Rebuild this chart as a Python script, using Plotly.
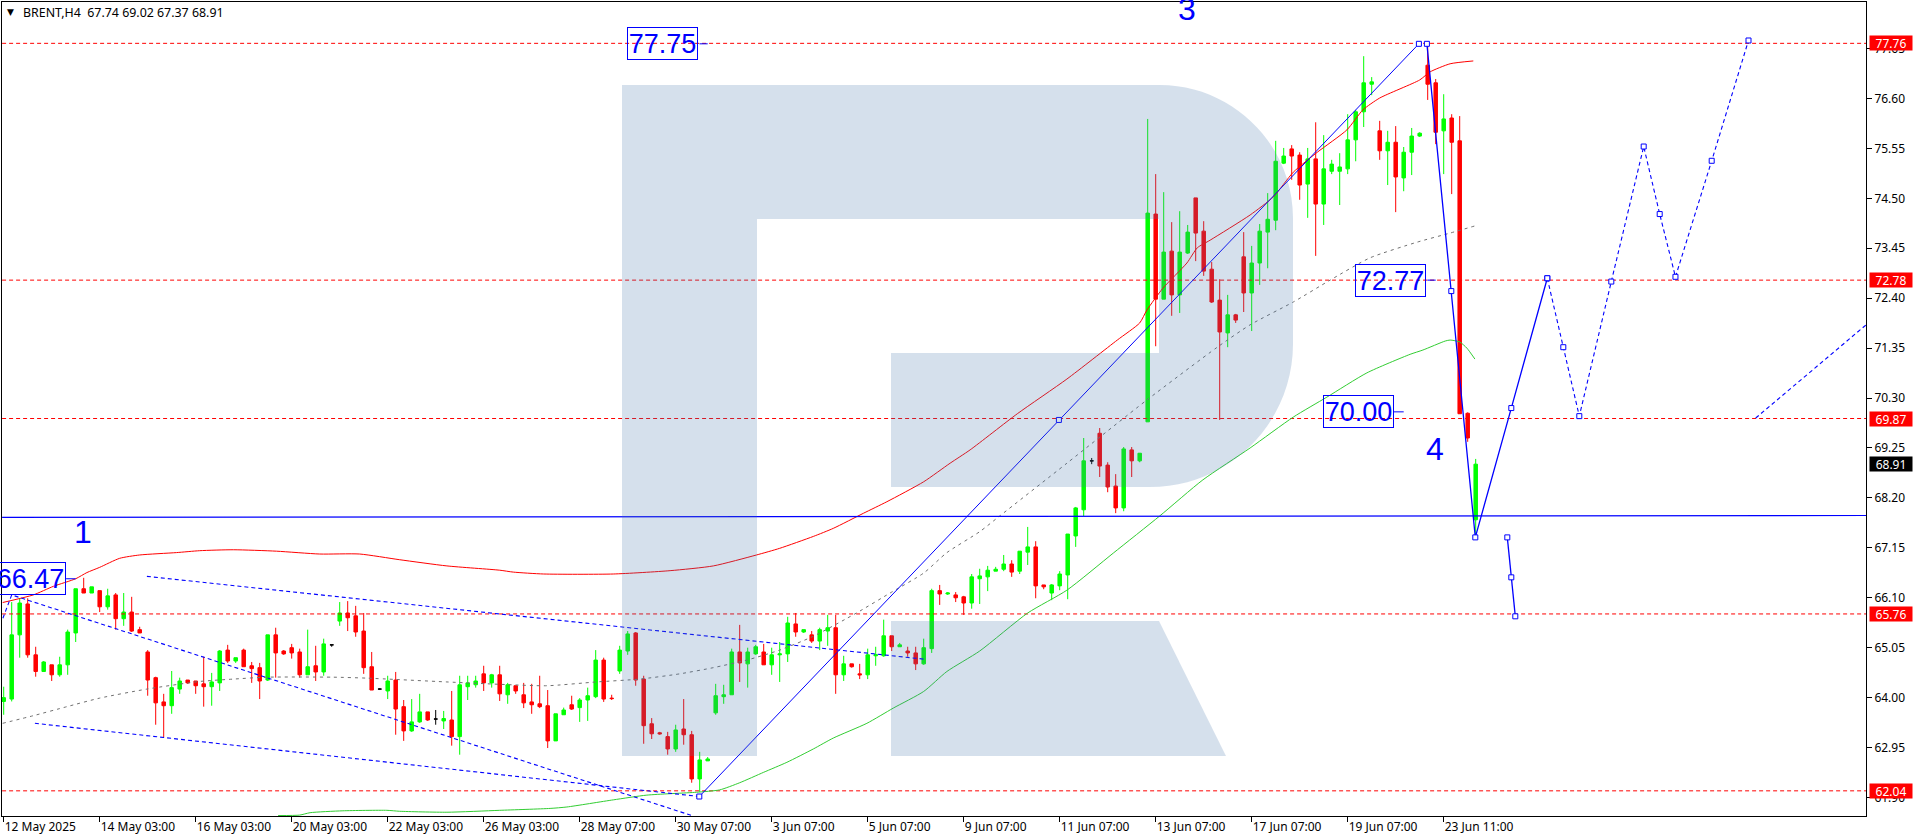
import plotly.graph_objects as go

# ---------- candles (BRENT H4) ----------
opens = [63.92,63.97,65.32,65.97,64.90,64.55,64.69,64.48,64.69,65.36,
66.29,66.20,66.25,65.91,66.16,65.66,65.80,65.43,64.96,64.42,
63.91,63.83,64.18,64.37,64.35,64.29,64.23,64.31,65.00,64.77,
65.00,64.67,64.63,64.37,65.32,64.98,65.05,64.96,64.48,64.67,
64.54,65.11,65.61,65.78,65.72,65.40,64.65,64.18,64.14,64.37,
63.81,63.30,63.49,63.70,63.55,63.51,63.53,63.18,64.23,64.27,
64.50,64.31,64.48,64.06,64.25,64.06,63.91,63.87,63.83,63.09,
63.64,63.85,63.79,63.95,64.02,64.79,63.99,64.56,64.98,65.36,
64.39,63.45,63.26,63.18,62.92,63.34,63.22,62.29,62.67,63.68,
64.02,64.06,64.96,64.71,64.92,64.96,64.69,64.90,64.92,65.55,
65.38,65.32,65.19,65.40,65.47,64.48,64.71,64.50,64.48,64.88,
64.88,65.30,65.07,64.98,64.94,64.71,65.03,66.25,66.18,66.16,
66.12,65.99,66.50,66.54,66.66,66.70,66.81,66.66,67.06,67.17,
66.37,66.20,66.35,66.58,67.40,67.95,68.98,69.56,68.89,68.45,
67.99,69.21,68.98,69.80,74.17,72.38,73.39,72.47,73.35,74.51,
73.81,73.01,72.36,71.67,72.05,73.27,72.51,73.14,73.79,74.04,
75.24,75.54,75.41,74.80,75.33,74.38,75.07,75.07,75.12,75.73,
76.32,76.90,75.92,75.50,75.68,74.93,75.47,75.81,77.30,76.93,
75.92,76.19,75.71,69.98,67.74]
highs = [64.23,66.01,66.09,66.09,65.07,64.77,64.69,64.86,65.43,66.29,
66.52,66.33,66.25,66.29,66.20,66.20,66.12,65.49,65.00,64.44,
64.08,64.56,64.42,64.37,64.35,64.86,64.52,65.00,65.11,64.84,
65.03,64.75,64.73,65.32,65.47,65.00,65.13,65.03,65.43,65.09,
65.24,65.11,66.01,66.03,65.93,65.78,64.96,64.20,64.46,64.54,
63.95,63.97,64.08,63.70,63.74,63.72,64.14,64.46,64.46,64.46,
64.67,64.50,64.67,64.31,64.25,64.31,64.29,64.46,64.16,63.66,
63.79,64.04,63.99,64.21,65.00,64.84,64.06,65.09,65.40,65.38,
64.46,63.57,63.28,63.28,63.43,63.97,63.30,62.86,62.75,64.29,
64.27,65.03,65.53,65.05,65.11,65.13,65.05,65.17,65.70,65.78,
65.43,65.40,65.47,65.74,65.74,64.88,64.71,64.71,65.03,65.07,
65.64,65.30,65.15,65.07,65.07,65.24,66.29,66.37,66.22,66.22,
66.14,66.60,66.71,66.77,66.75,67.00,66.89,67.08,67.59,67.29,
66.37,66.39,66.66,67.44,68.01,69.46,69.04,69.67,68.95,68.70,
69.27,69.27,69.14,76.17,75.01,74.63,74.00,74.23,73.94,74.51,
74.02,73.16,72.80,72.47,72.07,73.79,73.50,73.96,74.61,75.71,
75.56,75.62,75.47,75.56,76.10,75.83,75.31,75.45,76.27,76.36,
77.49,77.05,76.13,75.92,76.02,75.58,75.98,75.89,77.70,77.01,
76.69,76.27,76.23,70.00,69.02]
lows = [63.64,63.92,64.84,64.84,64.44,64.55,64.35,64.44,64.48,65.17,
66.20,66.20,65.80,65.85,65.43,65.51,65.38,65.36,64.04,63.43,
63.17,63.66,64.08,64.29,64.08,63.81,63.83,64.14,64.73,64.73,
64.65,64.31,63.97,64.35,64.42,64.90,64.82,64.42,64.48,64.35,
64.46,65.07,65.51,65.40,65.28,64.50,64.16,64.16,63.97,63.22,
63.09,63.28,63.47,63.51,63.43,63.34,62.99,62.80,63.95,64.21,
64.14,64.21,63.93,63.87,64.08,63.78,63.66,63.78,62.94,63.09,
63.64,63.74,63.49,63.51,63.99,63.91,63.95,64.50,64.90,64.25,
63.03,63.13,63.22,62.80,62.86,63.01,62.21,62.02,62.67,63.64,
63.87,64.06,64.33,64.21,64.90,64.69,64.48,64.33,64.75,65.28,
65.36,65.15,65.00,65.09,64.08,64.35,64.63,64.39,64.39,64.67,
64.86,64.98,65.07,64.86,64.58,64.69,64.94,65.95,66.16,66.01,
65.74,65.87,65.97,66.24,66.66,66.66,66.54,66.60,66.79,66.09,
66.28,66.05,66.26,66.07,67.17,67.82,68.91,68.64,68.32,67.88,
67.92,68.64,68.95,69.80,71.39,72.38,72.03,72.09,73.33,73.18,
72.87,72.30,69.84,71.37,71.88,72.11,71.71,72.68,73.03,73.83,
75.22,74.89,74.47,74.09,73.29,73.94,75.01,74.36,75.01,75.28,
76.00,76.67,75.31,74.78,74.21,74.65,74.99,75.79,76.57,75.64,
75.01,74.59,69.97,69.38,67.37]
closes = [64.00,65.32,65.99,64.90,64.55,64.75,64.48,64.69,65.38,66.29,
66.20,66.33,65.91,66.14,65.66,65.80,65.40,65.36,64.37,63.89,
63.83,64.21,64.35,64.31,64.25,64.23,64.33,64.98,64.77,64.84,
64.65,64.61,64.35,65.32,64.94,64.92,64.94,64.48,64.65,64.54,
65.13,65.11,65.78,65.68,65.38,64.63,64.16,64.18,64.35,63.76,
63.30,63.49,63.70,63.53,63.55,63.56,63.18,64.27,64.31,64.35,
64.31,64.48,64.08,64.27,64.14,63.89,63.85,63.81,63.09,63.66,
63.74,63.76,63.95,64.04,64.79,63.97,63.98,65.00,65.34,64.37,
63.41,63.24,63.24,62.92,63.32,63.22,62.29,62.69,62.71,64.04,
64.06,64.96,64.73,64.96,65.07,64.69,64.90,64.92,65.57,65.38,
65.43,65.19,65.43,65.47,64.48,64.71,64.65,64.48,64.90,64.90,
65.30,65.07,65.11,64.94,64.71,65.05,66.25,66.18,66.20,66.10,
65.99,66.54,66.56,66.68,66.70,66.81,66.64,67.08,67.17,66.35,
66.33,66.37,66.60,67.44,67.99,68.98,68.98,68.87,68.43,67.99,
69.23,68.98,69.14,74.19,72.38,73.37,72.47,73.37,73.79,73.77,
72.97,72.32,71.69,72.05,71.94,72.51,73.14,73.81,74.06,75.28,
75.39,75.39,74.78,75.33,74.38,75.12,75.22,75.16,75.73,76.32,
76.93,76.95,75.50,75.68,74.95,75.47,75.81,75.87,76.90,75.89,
76.17,75.68,69.97,69.46,68.91]
bars = list(range(len(opens)))

# ---------- moving averages (bar index, price) ----------
red_ma_x = [-0.13,3.7,6.2,9.0,10.4,12.0,14.5,17.0,21.6,24.5,28.7,34.1,39.5,44.5,49.5,55.4,62.0,63.7,67.5,76.2,83.3,88.7,94.1,97.0,101.2,103.7,107.5,110.4,115.0,118.3,120.8,126.7,132.9,139.2,142.0,142.9,144.9,147.9,149.2,150.8,155.8,158.7,161.2,164.2,167.9,169.9,172.0,177.0,178.3,180.8,183.7]
red_ma_y = [66.00,66.16,66.34,66.50,66.63,66.74,66.93,67.00,67.05,67.09,67.11,67.08,67.02,67.02,66.90,66.77,66.68,66.64,66.60,66.60,66.67,66.77,67.00,67.14,67.39,67.56,67.88,68.12,68.54,68.93,69.21,69.97,70.70,71.52,71.88,72.15,72.61,73.14,73.46,73.62,74.15,74.53,75.05,75.47,75.94,76.36,76.61,76.99,77.16,77.33,77.39]
green_ma_x = [34.3,37.0,38.3,42.4,47.9,49.5,55.4,62.0,68.3,70.4,76.2,80.4,86.6,89.5,92.0,95.0,97.9,101.2,103.7,107.9,111.2,115.0,117.9,122.0,128.0,132.9,138.7,144.5,149.9,155.8,161.2,165.4,170.4,175.8,177.4,180.2,180.8,182.0,182.9,183.9]
green_ma_y = [61.52,61.53,61.58,61.62,61.63,61.61,61.59,61.63,61.67,61.70,61.85,61.95,62.01,62.06,62.21,62.43,62.64,62.92,63.15,63.46,63.78,64.13,64.55,64.98,65.78,66.26,67.04,67.82,68.58,69.25,69.90,70.32,70.83,71.22,71.31,71.50,71.52,71.48,71.35,71.12]
gray_ma_x = [-0.13,3.7,7.9,12.0,17.9,24.5,28.7,32.9,41.2,45.4,55.4,62.0,67.9,74.1,79.5,84.5,88.7,92.9,97.0,101.2,106.6,110.8,115.0,117.9,122.0,124.5,132.9,142.9,151.7,155.8,161.2,165.8,170.8,176.7,180.8,183.9]
gray_ma_y = [63.46,63.62,63.81,63.99,64.18,64.34,64.39,64.43,64.43,64.41,64.33,64.28,64.25,64.33,64.39,64.50,64.63,64.79,65.00,65.29,65.78,66.20,66.62,67.05,67.49,67.82,68.93,70.26,71.37,71.84,72.32,72.78,73.25,73.58,73.77,73.92]

# ---------- drawn objects (bar index, price) ----------
level_prices = [77.76, 72.78, 69.87, 65.76, 62.04]
axis_span = [-0.2, 232.8]
trend_y = [67.79, 67.83]
chan_upper_x, chan_upper_y = [17.9, 115.0], [66.55, 64.81]
chan_mid_x, chan_mid_y = [-0.1, 1.0, 86.2], [65.67, 66.16, 61.51]
chan_low_x, chan_low_y = [3.9, 86.95], [63.46, 61.92]
wave_up_x, wave_up_y = [86.95, 131.9, 176.9], [61.92, 69.84, 77.75]
wave_down_x = [177.9, 180.95, 183.95, 188.45, 192.95]
wave_down_y = [77.75, 72.55, 67.37, 70.09, 72.82]
alt_x, alt_y = [187.95, 188.45, 188.95], [67.37, 66.53, 65.71]
fc_x = [192.95, 194.95, 196.95, 200.95, 205.0, 207.0, 208.97, 213.5, 218.1]
fc_y = [72.82, 71.37, 69.92, 72.75, 75.59, 74.17, 72.85, 75.29, 77.82]
fc2_x, fc2_y = [219.0, 232.8], [69.88, 71.84]
leader_x = [[86.97, 88.0], [177.95, 179.0], [173.7, 175.0], [7.8, 9.0]]
leader_y = [77.75, 72.78, 70.01, 66.50]
box_labels = ["77.75", "72.77", "70.00", "66.47"]
box_x = [82.4, 173.3, 169.3, 3.3]
wave_labels = ["1", "3", "4"]
wave_x = [9.9, 147.9, 178.9]
wave_y = [67.48, 78.48, 69.23]

# ---------- axes ----------
x_tick_bars = [0,12,24,36,48,60,72,84,96,108,120,132,144,156,168,180]
x_tick_text = ["12 May 2025","14 May 03:00","16 May 03:00","20 May 03:00","22 May 03:00","26 May 03:00",
               "28 May 07:00","30 May 07:00","3 Jun 07:00","5 Jun 07:00","9 Jun 07:00","11 Jun 07:00",
               "13 Jun 07:00","17 Jun 07:00","19 Jun 07:00","23 Jun 11:00"]
y_ticks = [77.65,76.60,75.55,74.50,73.45,72.40,71.35,70.30,69.25,68.20,67.15,66.10,65.05,64.00,62.95,61.90]
red_tags = [77.76, 72.78, 69.87, 65.76, 62.04]
last_price = 68.91
title_text = "BRENT,H4\u00a0\u00a067.74 69.02 67.37 68.91"

# ---------- layout geometry (page pixels) ----------
W, H = 1916, 840
L, R, T, B = 2, 1866, 2, 816
FONT = "Noto Sans, Liberation Sans, sans-serif"
BLUE, RED, LIME = "#0000FF", "#FF0000", "#00FF00"
px = lambda v: (v - L) / (R - L)
py = lambda v: (B - v) / (B - T)
P = lambda a, b: f"{px(a):.5f},{py(b):.5f}"

fig = go.Figure()

def line(x, y, color, width=1, dash="solid", mode="lines", msize=5, shape="linear"):
    fig.add_trace(go.Scatter(x=x, y=y, mode=mode, hoverinfo="skip", showlegend=False,
                             line=dict(color=color, width=width, dash=dash, shape=shape,
                                       **({"smoothing": 0.6} if shape == "spline" else {})),
                             marker=dict(symbol="square", size=msize, color="white",
                                         line=dict(color=BLUE, width=1))))

for lv in level_prices:
    line(axis_span, [lv, lv], RED, 1, "4px,3px")
line(gray_ma_x, gray_ma_y, "#707070", 1, "3px,4px", shape="spline")
line(red_ma_x, red_ma_y, RED, 1, shape="spline")
line(green_ma_x, green_ma_y, "#32CD32", 1, shape="spline")

is_doji = [o == c for o, c in zip(opens, closes)]
sel = lambda arr, flag: [v for v, d in zip(arr, is_doji) if d == flag]
fig.add_trace(go.Candlestick(
    x=sel(bars, False), open=sel(opens, False), high=sel(highs, False),
    low=sel(lows, False), close=sel(closes, False), hoverinfo="skip", showlegend=False,
    whiskerwidth=0,
    increasing=dict(line=dict(color=LIME, width=1), fillcolor=LIME),
    decreasing=dict(line=dict(color=RED, width=1), fillcolor=RED)))
fig.add_trace(go.Candlestick(
    x=sel(bars, True), open=sel(opens, True), high=sel(highs, True),
    low=sel(lows, True), close=sel(closes, True), hoverinfo="skip", showlegend=False,
    whiskerwidth=0,
    increasing=dict(line=dict(color="black", width=1), fillcolor="black"),
    decreasing=dict(line=dict(color="black", width=1), fillcolor="black")))

line(axis_span, trend_y, BLUE, 1.2)
line(chan_upper_x, chan_upper_y, BLUE, 1.1, "4px,3px")
line(chan_mid_x, chan_mid_y, BLUE, 1.1, "4px,3px")
line(chan_low_x, chan_low_y, BLUE, 1.1, "4px,3px")
line(wave_up_x, wave_up_y, BLUE, 1, mode="lines+markers")
line(wave_down_x, wave_down_y, BLUE, 1.3, mode="lines+markers")
line(alt_x, alt_y, BLUE, 1.3, mode="lines+markers")
line(fc_x, fc_y, BLUE, 1.1, "4px,3px", mode="lines+markers")
line(fc2_x, fc2_y, BLUE, 1.1, "4px,3px")
for lx, ly in zip(leader_x, leader_y):
    fig.add_trace(go.Scatter(x=lx, y=[ly, ly], mode="lines", hoverinfo="skip", showlegend=False,
                             line=dict(color=BLUE, width=1)))

ann = []
for txt, bx, ly in zip(box_labels, box_x, leader_y):
    ann.append(dict(x=bx, y=ly, xref="x", yref="y", text=txt, showarrow=False,
                    font=dict(family="Liberation Sans", size=27, color=BLUE),
                    bordercolor=BLUE, borderwidth=1, borderpad=0, width=69, height=31,
                    xanchor="center", yanchor="middle", align="center", valign="middle"))
for txt, wx, wy in zip(wave_labels, wave_x, wave_y):
    ann.append(dict(x=wx, y=wy, xref="x", yref="y", text=txt, showarrow=False,
                    font=dict(family="Liberation Sans", size=32, color=BLUE),
                    xanchor="center", yanchor="middle"))
for v in red_tags:
    ann.append(dict(x=1 + 2.5 / (R - L), y=v, xref="paper", yref="y", text=f"{v:.2f}", showarrow=False,
                    font=dict(family=FONT, size=12, color="white"), bgcolor=RED, borderpad=0,
                    width=42, height=14, xanchor="left", yanchor="middle", align="center", valign="middle"))
ann.append(dict(x=1 + 2.5 / (R - L), y=last_price, xref="paper", yref="y", text=f"{last_price:.2f}", showarrow=False,
                font=dict(family=FONT, size=12, color="white"), bgcolor="black", borderpad=0,
                width=42, height=14, xanchor="left", yanchor="middle", align="center", valign="middle"))
ann.append(dict(x=px(5), y=py(12), xref="paper", yref="paper", text="\u25BC", showarrow=False,
                font=dict(family="DejaVu Sans", size=9, color="black"), xanchor="left", yanchor="middle"))
ann.append(dict(x=px(21), y=py(12), xref="paper", yref="paper", text=title_text, showarrow=False,
                font=dict(family=FONT, size=12.4, color="black"), xanchor="left", yanchor="middle"))

logo_main = (f"M{P(622,85)} L{P(1160,85)} C{P(1233,85)} {P(1293,145)} {P(1293,218)} L{P(1293,344)} "
             f"C{P(1293,423)} {P(1229,487)} {P(1150,487)} L{P(891,487)} L{P(891,353)} L{P(1159,353)} "
             f"L{P(1159,219)} L{P(757,219)} L{P(757,756)} L{P(622,756)} Z")
logo_leg = f"M{P(891,621)} L{P(1159,621)} L{P(1226,756)} L{P(891,756)} Z"
shapes = [dict(type="path", path=p, xref="paper", yref="paper", layer="above",
               fillcolor="rgba(70,119,172,0.227)", line=dict(width=0))
          for p in (logo_main, logo_leg)]

fig.update_layout(
    width=W, height=H, margin=dict(l=L, r=W - R, t=T, b=H - B, pad=0),
    paper_bgcolor="white", plot_bgcolor="white", showlegend=False, boxgap=0.38,
    font=dict(family=FONT, size=12, color="black"), annotations=ann, shapes=shapes,
    xaxis=dict(type="linear", range=[(L - 3.7) / 8, (R - 3.7) / 8], showgrid=False, zeroline=False,
               rangeslider=dict(visible=False), tickmode="array", tickvals=x_tick_bars, ticktext=x_tick_text,
               ticks="outside", ticklen=5, tickcolor="black", tickwidth=1, ticklabelposition="outside right",
               showline=True, linecolor="black", linewidth=1, mirror=True),
    yaxis=dict(range=[76.6 - (B - 98.5) / 47.55, 76.6 + (98.5 - T) / 47.55], side="right", showgrid=False, zeroline=False,
               tickmode="array", tickvals=y_ticks, ticktext=[f"{v:.2f}" for v in y_ticks],
               ticks="outside", ticklen=5, tickcolor="black", tickwidth=1,
               showline=True, linecolor="black", linewidth=1, mirror=True),
)

fig.write_html("out.html", config=dict(displayModeBar=False),
               post_script="document.body.style.margin='0';document.body.style.overflow='hidden';")
